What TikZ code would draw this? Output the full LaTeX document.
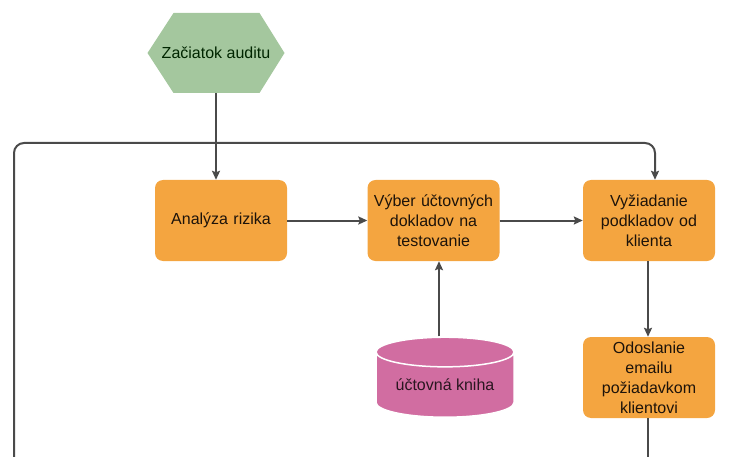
\documentclass[tikz,border=0pt]{standalone}
\usepackage{fontspec}
\setmainfont{Liberation Sans}
\usetikzlibrary{shapes.geometric,arrows.meta}
\definecolor{boxorange}{HTML}{F4A540}
\definecolor{hexgreen}{HTML}{A4C79E}
\definecolor{bookpink}{HTML}{D16DA1}
\definecolor{linegray}{HTML}{4A4A4A}

\begin{document}
\begin{tikzpicture}[x=1pt,y=-1pt,
  font=\fontsize{16}{20}\selectfont,
  stepbox/.style={rectangle, rounded corners=8pt, fill=boxorange, text=black!85!brown,
    minimum width=132pt, minimum height=81pt, align=center, text width=126pt, inner sep=0pt},
  hexbox/.style={rectangle, minimum width=137pt, minimum height=80pt, inner sep=0pt,
    text=black!85!green,
    path picture={\fill[hexgreen] (path picture bounding box.west)
      -- ([xshift=26pt]path picture bounding box.north west)
      -- ([xshift=-25pt]path picture bounding box.north east)
      -- (path picture bounding box.east)
      -- ([xshift=-25pt]path picture bounding box.south east)
      -- ([xshift=26pt]path picture bounding box.south west) -- cycle;}},
  bookdb/.style={cylinder, shape border rotate=90, aspect=0.3, draw=white, line width=1.5pt,
    fill=bookpink, text=black!80!bookpink, minimum width=138pt, minimum height=80pt, inner sep=0pt},
  flow/.style={->, >={Stealth[length=9pt,width=8pt,inset=1.5pt]}, line width=2pt, linegray},
  wire/.style={line width=2pt, linegray}]
\useasboundingbox (0,0) rectangle (730,457);

\node[hexbox] (start) at (216,53) {Začiatok auditu};
\node[stepbox] (ana) at (221,220.5) {Analýza rizika};
\node[stepbox] (vyber) at (433.5,220.5) {Výber účtovných\\dokladov na\\testovanie};
\node[stepbox] (vyz) at (649,220.5) {Vyžiadanie\\podkladov od\\klienta};
\node[stepbox] (odosl) at (649,377.5) {Odoslanie\\emailu\\požiadavkom\\klientovi};
\node[bookdb] (book) at (445,385) {účtovná kniha};

\coordinate (loopend) at (14,457);
\coordinate (loopturn) at (655,143);
\coordinate (outend) at (648,457);

\draw[flow] (start.south) -- (start.south |- ana.north);
\draw[flow] (ana) -- (vyber);
\draw[flow] (vyber) -- (vyz);
\draw[flow] ([xshift=-1pt]vyz.south) -- ([xshift=-1pt]odosl.north);
\draw[flow] ([xshift=-6pt]book.north) -- ([xshift=-6pt]book.north |- vyber.south);
\draw[wire] ([xshift=-1pt]odosl.south) -- (outend);
\draw[flow, rounded corners=10pt] (loopend) |- (loopturn) -- (loopturn |- vyz.north);
\end{tikzpicture}
\end{document}
